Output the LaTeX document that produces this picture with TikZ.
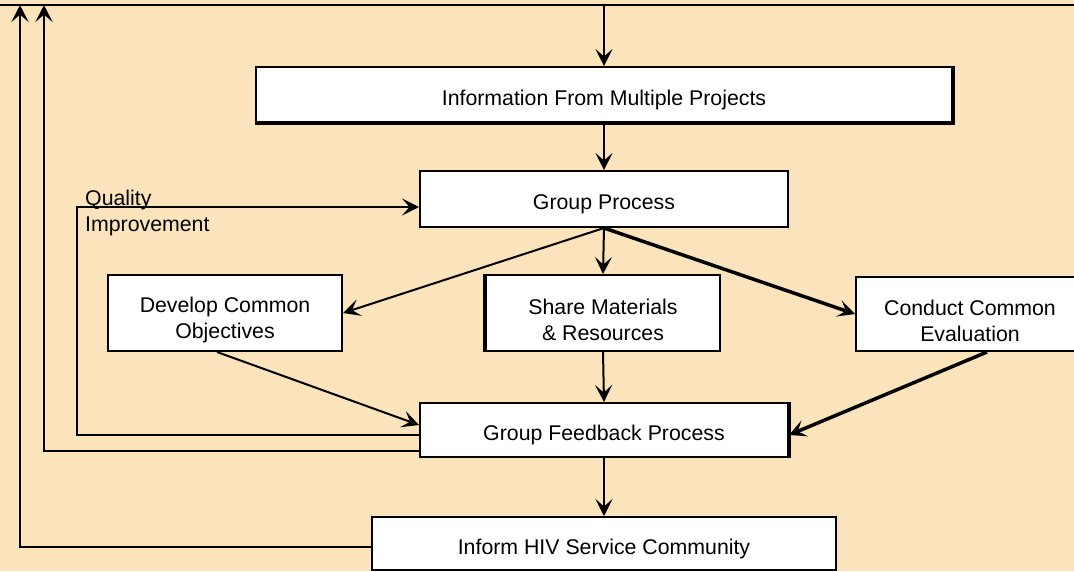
\documentclass[tikz,border=0pt]{standalone}
\usepackage{fontspec}
\setmainfont{Liberation Sans}
\usetikzlibrary{arrows.meta}
\definecolor{paper}{RGB}{251,227,187}
% taller first line, to set the lettering a little low in its box
\newcommand\firstline{\rule{0pt}{29pt}}
\begin{document}
\begin{tikzpicture}[x=1pt,y=-1pt,
  box/.style={draw, line width=2pt, fill=white, align=center, inner sep=0pt,
              font=\fontsize{21.3}{25.5}\selectfont},
  onebox/.style={box, execute at begin node={\rule{0pt}{26pt}}},
  arr/.style={-{Stealth[length=17pt,width=17pt,inset=7.5pt]}, line width=2pt},
  thickarr/.style={arr, line width=3.5pt},
  lbl/.style={font=\fontsize{21.3}{25.5}\selectfont, inner sep=0pt, anchor=base west}]
\useasboundingbox (0,0) rectangle (1074,571);
\fill[paper] (0,0) rectangle (1074,571);
\clip (0,0) rectangle (1074,571);

% boxes
\node[onebox, minimum width=696pt, minimum height=55pt] (info) at (604,94.5) {Information From Multiple Projects};
\node[onebox, minimum width=368pt, minimum height=56pt] (gp)   at (604,199) {Group Process};
\node[box, minimum width=234pt, minimum height=76pt] (dev)  at (225,313) {\firstline Develop Common\\Objectives};
\node[box, minimum width=234pt, minimum height=76pt] (share) at (603,313) {\firstline Share Materials\\\& Resources};
\node[box, minimum width=228pt, minimum height=74pt] (cond) at (970,314) {\firstline Conduct Common\\Evaluation};
\node[onebox, minimum width=368pt, minimum height=54pt] (fb)   at (604,430) {Group Feedback Process};
\node[onebox, minimum width=464pt, minimum height=53pt] (inf)  at (604,543.5) {Inform HIV Service Community};

% heavier shadow edges
\draw[line width=4pt] (info.south west) -- (info.south east) -- (info.north east);
\draw[line width=4pt] (share.south west) -- (share.north west);
\draw[line width=4pt] (fb.south east) -- (fb.north east);

% top rule and its drop-in / return points
\coordinate (rl) at (0,5);
\coordinate (rr) at (1074,5);
\draw[line width=2pt] (rl) -- (rr);
\coordinate (topin) at (604,5);
\coordinate (top1) at (20,5);
\coordinate (top2) at (44,5);

% main flow
\draw[arr] (topin) -- (info.north);
\draw[arr] (info.south) -- (gp.north);
\draw[arr] (gp.south) -- (dev.east);
\draw[arr] (gp.south) -- (share.north);
\draw[thickarr] (gp.south) -- (cond.west);
\draw[arr] ([xshift=-8pt]dev.south) -- ([yshift=5pt]fb.west);
\draw[arr] (share.south) -- (fb.north);
\draw[thickarr] ([xshift=17pt]cond.south) -- ([yshift=-5pt]fb.east);
\draw[arr] (fb.south) -- (inf.north);

% feedback loops
\draw[arr] ([yshift=-5pt]fb.west) -- ++(-342,0) |- ([yshift=-8pt]gp.west);
\draw[arr] ([yshift=-21pt]fb.west) -| (top2);
\draw[arr] ([yshift=-3.5pt]inf.west) -| (top1);

% loop label
\node[lbl] (q1) at (85,205) {Quality};
\node[lbl] (q2) at (85,231) {Improvement};
\end{tikzpicture}
\end{document}
